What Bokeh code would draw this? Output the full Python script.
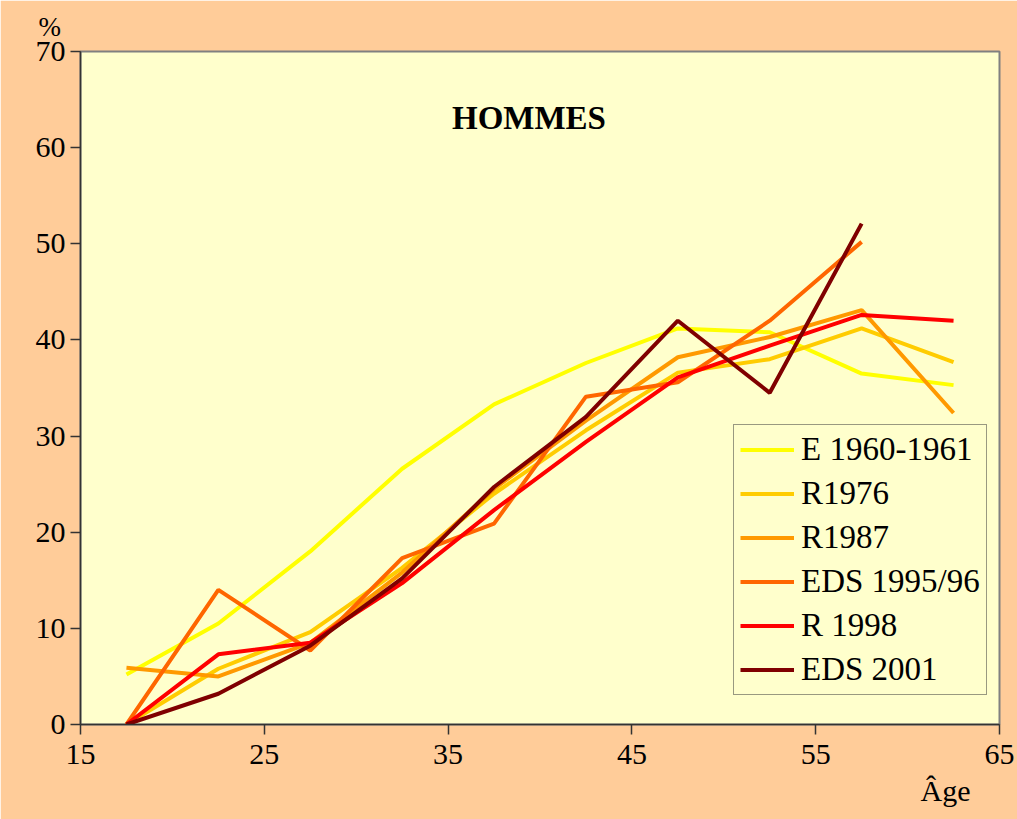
from bokeh.plotting import figure
from bokeh.models import Range1d, FixedTicker, Label, Legend, LegendItem, Title
from bokeh.embed import file_html
from bokeh.resources import INLINE

ages = [17.5, 22.5, 27.5, 32.5, 37.5, 42.5, 47.5, 52.5, 57.5, 62.5]
e1960 = [5.2, 10.5, 18.0, 26.6, 33.3, 37.6, 41.2, 40.8, 36.5, 35.3]
r1976 = [0.0, 5.8, 9.6, 16.3, 24.0, 30.6, 36.6, 38.0, 41.2, 37.7]
r1987 = [5.9, 5.0, 8.5, 15.8, 24.5, 31.6, 38.2, 40.3, 43.1, 32.4]
eds1995 = [0.0, 14.0, 7.7, 17.3, 20.9, 34.1, 35.6, 42.0, 50.2]
r1998 = [0.0, 7.3, 8.5, 14.7, 22.3, 29.4, 36.1, 39.4, 42.6, 42.0]
eds2001 = [0.0, 3.2, 8.2, 15.2, 24.7, 32.0, 42.0, 34.5, 52.1]

series_names = ["E 1960-1961", "R1976", "R1987", "EDS 1995/96", "R 1998", "EDS 2001"]
series_values = [e1960, r1976, r1987, eds1995, r1998, eds2001]
colors = ["#FFFF00", "#FFCC00", "#FF9900", "#FF6600", "#FF0000", "#800000"]

x_ticks = [15, 25, 35, 45, 55, 65]
y_ticks = [0, 10, 20, 30, 40, 50, 60, 70]

FONT = "Liberation Serif"

p = figure(width=1017, height=819, output_backend="svg", toolbar_location=None,
           x_range=Range1d(15, 65), y_range=Range1d(0, 70),
           min_border_left=80, min_border_right=18, min_border_top=51, min_border_bottom=95)
p.background_fill_color = "#FFFFCC"
p.border_fill_color = "#FFCC99"
p.outline_line_color = "#808080"
p.outline_line_width = 2
p.xgrid.visible = False
p.ygrid.visible = False

for ax, ticks in ((p.xaxis[0], x_ticks), (p.yaxis[0], y_ticks)):
    ax.ticker = FixedTicker(ticks=ticks)
    ax.minor_tick_line_color = None
    ax.major_tick_in = 0
    ax.major_tick_out = 10
    ax.axis_line_color = "#333333"
    ax.axis_line_width = 1.5
    ax.major_tick_line_color = "#333333"
    ax.major_tick_line_width = 1.5
    ax.major_label_text_font = FONT
    ax.major_label_text_font_size = "30px"
    ax.major_label_text_color = "black"
p.xaxis.major_label_standoff = 10
p.yaxis.major_label_standoff = 5

items = []
for name, vals, c in zip(series_names, series_values, colors):
    r = p.line(ages[:len(vals)], vals, line_color=c, line_width=4)
    items.append(LegendItem(label=name, renderers=[r]))

legend = Legend(items=items, location=(653, 29))
legend.background_fill_color = "#FFFFCC"
legend.background_fill_alpha = 1
legend.border_line_color = "#333333"
legend.border_line_width = 1
legend.label_text_font = FONT
legend.label_text_font_size = "33px"
legend.label_text_color = "black"
legend.label_height = 37
legend.glyph_height = 37
legend.glyph_width = 54
legend.spacing = 7
legend.padding = 6
legend.margin = 0
legend.label_standoff = 7
p.add_layout(legend, "center")

p.add_layout(Label(x=39.4, y=63.1, text="HOMMES", text_font=FONT, text_font_size="33px",
                   text_font_style="bold", text_color="black",
                   text_align="center", text_baseline="middle"))

p.add_layout(Title(text="%", align="left", offset=-42, standoff=19, text_font=FONT,
                   text_font_size="27px", text_font_style="normal", text_color="black"), "above")
p.add_layout(Title(text="Âge", align="right", offset=29, standoff=10, text_font=FONT,
                   text_font_size="30px", text_font_style="normal", text_color="black"), "below")

open("out.html", "w").write(file_html(p, INLINE))
